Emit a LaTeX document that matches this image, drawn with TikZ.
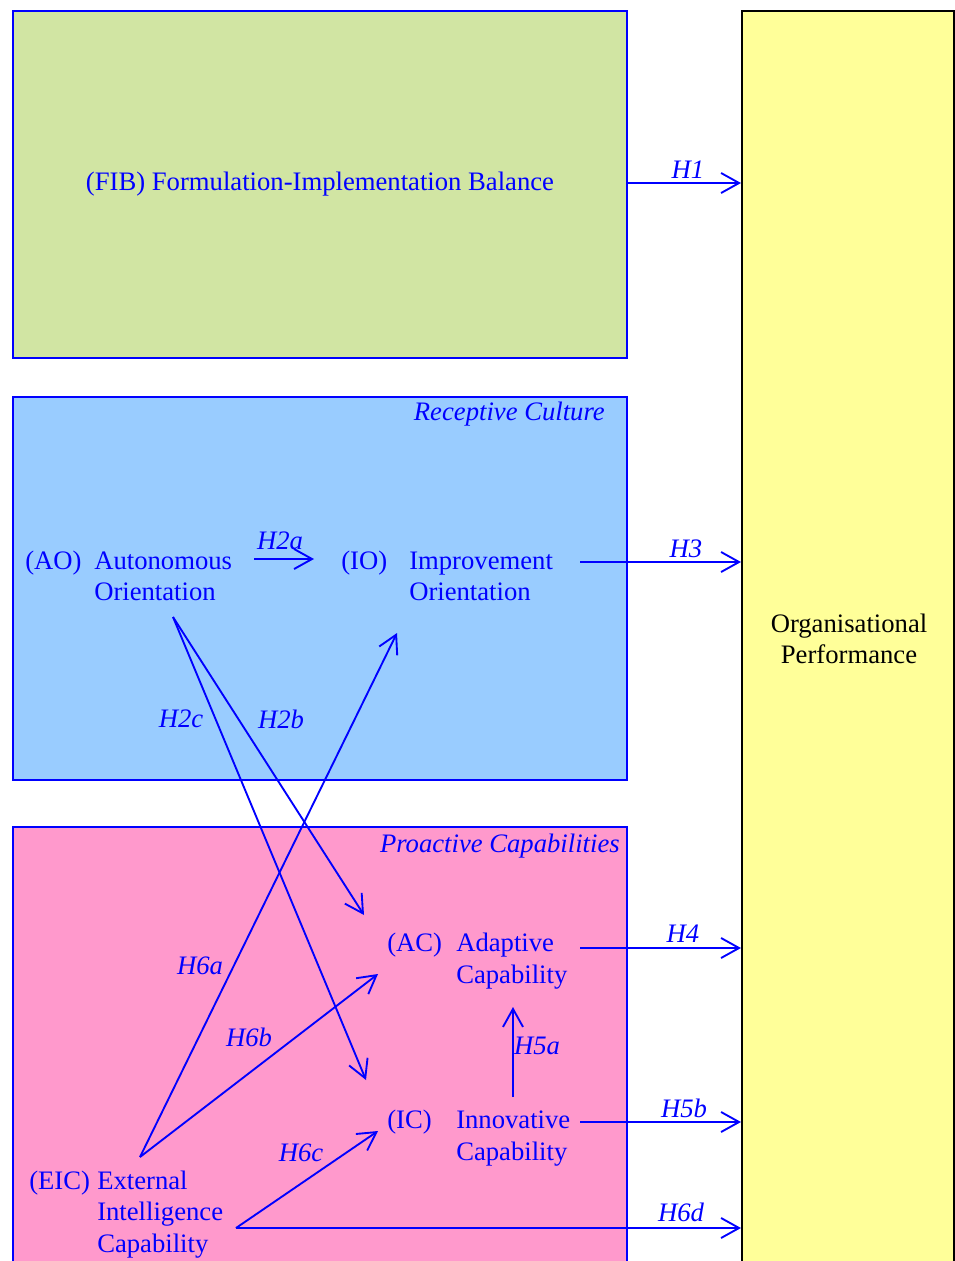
\documentclass[tikz,border=0pt]{standalone}
\usepackage{fontspec}
\setmainfont{Liberation Serif}
\usetikzlibrary{arrows.meta}

\definecolor{fibfill}{RGB}{209,229,163}
\definecolor{rcfill}{RGB}{153,204,255}
\definecolor{pcfill}{RGB}{255,153,204}
\definecolor{opfill}{RGB}{255,255,153}
\definecolor{ink}{RGB}{0,0,255}

\tikzset{
  panel/.style={draw=ink, line width=1.3pt, anchor=north west, inner sep=0pt},
  txt/.style={text=ink, font=\fontsize{20pt}{23pt}\selectfont, inner sep=0pt, anchor=base west},
  hyp/.style={text=ink, font=\fontsize{20pt}{23pt}\selectfont\itshape, inner sep=0pt},
  arr/.style={draw=ink, line width=1.4pt, -{Straight Barb[length=13.5pt,width=15pt,line width=1.4pt]}},
}

\begin{document}
\begin{tikzpicture}[x=0.75pt, y=-0.75pt]
\useasboundingbox (0,0) rectangle (954,1261);

% panels
\node[panel, fill=fibfill, minimum width=614*0.75pt, minimum height=347*0.75pt] (fib) at (12,10) {};
\node[panel, fill=rcfill, minimum width=614*0.75pt, minimum height=383*0.75pt] (rc) at (12,396) {};
\node[panel, fill=pcfill, minimum width=614*0.75pt, minimum height=450*0.75pt] (pc) at (12,826) {};
\node[panel, draw=black, fill=opfill, minimum width=212*0.75pt, minimum height=1260*0.75pt] (op) at (741,10) {};

% panel titles
\node[txt, anchor=base] (fibt) at (320,190) {(FIB) Formulation-Implementation Balance};
\node[hyp, anchor=base east] (rct) at (605,420) {Receptive Culture};
\node[hyp, anchor=base east] (pct) at (620,852) {Proactive Capabilities};
\node[txt, text=black, anchor=base] (op1) at (849,632) {Organisational};
\node[txt, text=black, anchor=base] (op2) at (849,663) {Performance};

% constructs
\node[txt] (ao) at (25,569) {(AO)};
\node[txt] (ao1) at (94,569) {Autonomous};
\node[txt] (ao2) at (94,600) {Orientation};

\node[txt] (io) at (341,569) {(IO)};
\node[txt] (io1) at (409,569) {Improvement};
\node[txt] (io2) at (409,600) {Orientation};

\node[txt] (ac) at (387,951) {(AC)};
\node[txt] (ac1) at (456,951) {Adaptive};
\node[txt] (ac2) at (456,983) {Capability};

\node[txt] (ic) at (387,1128) {(IC)};
\node[txt] (ic1) at (456,1128) {Innovative};
\node[txt] (ic2) at (456,1160) {Capability};

\node[txt] (eic) at (29,1189) {(EIC)};
\node[txt] (eic1) at (97,1189) {External};
\node[txt] (eic2) at (97,1220) {Intelligence};
\node[txt] (eic3) at (97,1252) {Capability};

% connector end points
\coordinate (fibR) at (626,183);
\coordinate (aoR) at (254,559);
\coordinate (ioL) at (314,559);
\coordinate (ioR) at (580,562);
\coordinate (aoB) at (173,617);
\coordinate (ioB) at (397,633);
\coordinate (acL) at (364,915);
\coordinate (acSW) at (378,974);
\coordinate (acR) at (580,948);
\coordinate (acB) at (513,1007);
\coordinate (icT) at (513,1097);
\coordinate (icL) at (366,1080);
\coordinate (icSW) at (378,1131);
\coordinate (icR) at (580,1122);
\coordinate (eicT) at (140,1157);
\coordinate (eicR) at (236,1228);

% hypotheses
\draw[arr] (fibR) -- (fibR -| op.west);
\draw[arr] (aoR) -- (ioL);
\draw[arr] (ioR) -- (ioR -| op.west);
\draw[arr] (aoB) -- (acL);
\draw[arr] (aoB) -- (icL);
\draw[arr] (eicT) -- (ioB);
\draw[arr] (eicT) -- (acSW);
\draw[arr] (eicR) -- (icSW);
\draw[arr] (eicR) -- (eicR -| op.west);
\draw[arr] (acR) -- (acR -| op.west);
\draw[arr] (icR) -- (icR -| op.west);
\draw[arr] (icT) -- (acB);

% hypothesis labels
\node[hyp] (h1) at (688,170) {H1};
\node[hyp] (h2a) at (280,541) {H2a};
\node[hyp] (h3) at (686,549) {H3};
\node[hyp] (h2b) at (281,719) {H2b};
\node[hyp] (h2c) at (181,719) {H2c};
\node[hyp] (h6a) at (200,966) {H6a};
\node[hyp] (h6b) at (249,1037) {H6b};
\node[hyp] (h6c) at (301,1153) {H6c};
\node[hyp] (h6d) at (681,1212) {H6d};
\node[hyp] (h4) at (683,934) {H4};
\node[hyp] (h5b) at (684,1108) {H5b};
\node[hyp] (h5a) at (537,1046) {H5a};
\end{tikzpicture}
\end{document}
